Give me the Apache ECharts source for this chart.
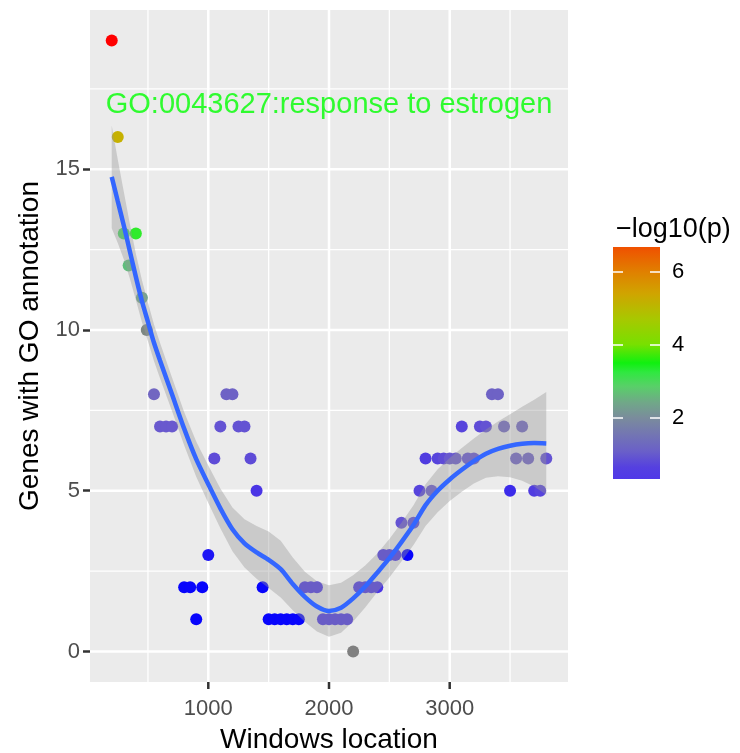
<!DOCTYPE html>
<html><head><meta charset="utf-8">
<script src="https://cdn.jsdelivr.net/npm/echarts@6/dist/echarts.min.js"></script>
<style>html,body{margin:0;padding:0;background:#fff}#c{width:740px;height:753px}</style>
</head><body><div id="c"></div>
<script>
// ---- data ----
const pointX = [200,250,300,340,400,450,490,550,600,650,700,800,850,900,950,1000,1050,1100,1150,1200,1250,1300,1350,1400,1450,
  1500,1550,1600,1650,1700,1750,1800,1850,1900,1950,2000,2050,2100,2150,2200,2250,2300,2350,2400,2450,2500,2550,2600,2650,2700,
  2750,2800,2850,2900,2950,3000,3050,3100,3150,3200,3250,3300,3350,3400,3450,3500,3550,3600,3650,3700,3750,3800];
const pointY = [19,16,13,12,13,11,10,8,7,7,7,2,2,1,2,3,6,7,8,8,7,7,6,5,2,
  1,1,1,1,1,1,2,2,2,1,1,1,1,1,0,2,2,2,2,3,3,3,4,3,4,
  5,6,5,6,6,6,6,7,6,6,7,7,8,8,7,5,6,7,6,5,5,6];
const pointP = [6.68,5.0,3.0,2.7,3.4,2.4,2.0,1.3,1.0,1.0,1.0,0.05,0.05,0.05,0.05,0.2,0.8,0.9,1.2,1.2,0.9,0.9,0.8,0.5,0.05,
  0.05,0.05,0.05,0.05,0.05,0.05,0.5,0.5,0.5,0.5,0.5,0.5,0.5,0.5,1.91,0.5,0.5,0.5,0.5,0.5,0.5,0.5,0.9,0.05,0.8,
  0.7,0.6,1.0,0.7,0.8,1.0,1.0,0.7,0.9,0.9,0.8,0.9,1.2,1.2,1.3,0.4,1.2,1.3,1.2,0.6,0.7,0.9];
const smoothX = [200,250,300,350,400,450,500,550,600,700,800,900,1000,1100,1200,1300,1400,1500,1600,1700,1800,1900,2000,
  2100,2200,2300,2400,2500,2600,2700,2800,2900,3000,3100,3200,3300,3400,3500,3600,3700,3800];
const smoothFit = [14.76,14.0,13.25,12.45,11.65,10.9,10.25,9.6,9.05,7.99,6.93,5.98,5.2,4.45,3.8,3.36,3.08,2.85,2.56,2.1,1.7,1.4,1.26,
  1.36,1.65,2.02,2.45,2.9,3.4,3.93,4.55,5.0,5.35,5.65,5.92,6.15,6.3,6.4,6.46,6.48,6.47];
const smoothLower = [13.16,12.7,12.2,11.6,10.93,10.25,9.65,9.03,8.5,7.47,6.41,5.43,4.62,3.83,3.12,2.61,2.26,1.97,1.68,1.28,0.92,0.62,0.46,
  0.58,0.93,1.37,1.85,2.3,2.8,3.31,3.9,4.33,4.68,4.97,5.22,5.4,5.45,5.42,5.31,5.13,4.87];
const smoothUpper = [16.36,15.3,14.3,13.3,12.37,11.55,10.85,10.17,9.6,8.51,7.45,6.53,5.78,5.07,4.48,4.11,3.9,3.73,3.44,2.92,2.48,2.18,2.06,
  2.14,2.37,2.67,3.05,3.5,4.0,4.55,5.2,5.67,6.02,6.33,6.62,6.9,7.15,7.38,7.61,7.83,8.07];
const xTicks = [1000,2000,3000];
const xMinorTicks = [500,1500,2500,3500];
const yTicks = [0,5,10,15];
const yMinorTicks = [2.5,7.5,12.5,17.5];
const xRange = [20,3980];
const yRange = [-0.95,19.95];
const legendTicks = [2,4,6];
const pRange = [0.32,6.68];
const annotationPos = [2000,17];
const annotationText = 'GO:0043627:response to estrogen';
const xTitle = 'Windows location';
const yTitle = 'Genes with GO annotation';
const legendTitle = '\u2212log10(p)';

// ---- style ----
const FONT = '"Liberation Sans", Arial, sans-serif';
const pointColors = ['#0000FF','#4833e6','#6857d0','#746cbb','#808080','#6ea48c','#56cc72','#28ec30','#5ce808','#98d000','#bcbc00','#d0a600','#dc8800','#e86400','#ff0000'];
const legendStops = [[0,'#5038E8'],[0.05,'#5540e0'],[0.12,'#6a60c8'],[0.2,'#7478b0'],[0.264,'#7a8c9c'],[0.33,'#70a888'],[0.4,'#58d068'],[0.46,'#30e840'],[0.5,'#10f010'],[0.58,'#78e000'],[0.69,'#a8c800'],[0.8,'#d0a400'],[0.893,'#e08000'],[1,'#f05000']];

const chart = echarts.init(document.getElementById('c'), null, {renderer:'canvas'});

function vLines(vals, width){
  return {type:'custom', xAxisIndex:0, yAxisIndex:0, z:1, silent:true,
    data: vals.map(v=>[v, 0]),
    renderItem:(params, api)=>{
      const cs = params.coordSys;
      const x = api.coord([api.value(0), 0])[0];
      return {type:'line', shape:{x1:x,y1:cs.y,x2:x,y2:cs.y+cs.height}, style:{stroke:'#fff', lineWidth:width}};
    }};
}
function hLines(vals, width){
  return {type:'custom', xAxisIndex:0, yAxisIndex:0, z:1, silent:true,
    data: vals.map(v=>[1000, v]),
    renderItem:(params, api)=>{
      const cs = params.coordSys;
      const y = api.coord([1000, api.value(1)])[1];
      return {type:'line', shape:{x1:cs.x,y1:y,x2:cs.x+cs.width,y2:y}, style:{stroke:'#fff', lineWidth:width}};
    }};
}

const option = {
  animation:false,
  backgroundColor:'#ffffff',
  textStyle:{fontFamily:FONT},
  title:{text:legendTitle, left:611, top:211, textStyle:{fontFamily:FONT, fontSize:27, fontWeight:'normal', color:'#000'}},
  grid:[
    {left:90, top:10, width:478, height:672, show:true, backgroundColor:'#EBEBEB', borderWidth:0, outerBoundsMode:'none'},
    {left:613, top:247, width:47, height:232, show:false, outerBoundsMode:'none'}
  ],
  xAxis:[
    {type:'value', gridIndex:0, position:'bottom', min:xRange[0], max:xRange[1], splitLine:{show:false},
      axisLine:{show:false, onZero:false},
      axisTick:{show:false},
      axisLabel:{customValues:xTicks, color:'#4D4D4D', fontSize:22, margin:16, fontFamily:FONT, formatter:v=>String(v)},
      name:xTitle, nameLocation:'middle', nameGap:44, nameTextStyle:{fontSize:28, color:'#000', fontFamily:FONT, verticalAlign:'top'}},
    {type:'value', gridIndex:1, min:0, max:1, show:false}
  ],
  yAxis:[
    {type:'value', gridIndex:0, min:yRange[0], max:yRange[1], splitLine:{show:false}, axisLine:{show:false, onZero:false},
      axisTick:{show:true, length:7, lineStyle:{color:'#333333', width:2.5}, customValues:yTicks},
      axisLabel:{customValues:yTicks, color:'#4D4D4D', fontSize:22, margin:10, fontFamily:FONT, formatter:v=>String(v)},
      name:yTitle, nameLocation:'middle', nameGap:46, nameRotate:90, nameTextStyle:{fontSize:28, color:'#000', fontFamily:FONT, verticalAlign:'bottom'}},
    {type:'value', gridIndex:1, min:pRange[0], max:pRange[1], position:'right', z:10, splitLine:{show:false}, axisLine:{show:false, onZero:false},
      axisTick:{show:true, inside:true, length:10, lineStyle:{color:'#ffffff', width:1.5}, customValues:legendTicks},
      axisLabel:{customValues:legendTicks, color:'#000', fontSize:22, margin:12, fontFamily:FONT, formatter:v=>String(v)}},
    {type:'value', gridIndex:1, min:pRange[0], max:pRange[1], position:'left', z:10, splitLine:{show:false}, axisLine:{show:false, onZero:false},
      axisTick:{show:true, inside:true, length:10, lineStyle:{color:'#ffffff', width:1.5}, customValues:legendTicks},
      axisLabel:{show:false}}
  ],
  visualMap:{type:'continuous', show:false, seriesIndex:4, dimension:2, min:0, max:pRange[1], inRange:{color:pointColors}},
  series:[
    vLines(xMinorTicks, 1.3),
    hLines(yMinorTicks, 1.3),
    vLines(xTicks, 2.5),
    hLines(yTicks, 2.5),
    {type:'scatter', xAxisIndex:0, yAxisIndex:0, z:2, symbolSize:12, silent:true,
      data: pointX.map((x,i)=>[x, pointY[i], pointP[i]]), itemStyle:{opacity:1}},
    {type:'custom', xAxisIndex:0, yAxisIndex:0, z:3, silent:true, data:[[smoothX[0], smoothFit[0]]],
      renderItem:(params, api)=>{
        const pts = [];
        for (let i=0;i<smoothX.length;i++) pts.push(api.coord([smoothX[i], smoothUpper[i]]));
        for (let i=smoothX.length-1;i>=0;i--) pts.push(api.coord([smoothX[i], smoothLower[i]]));
        return {type:'polygon', shape:{points:pts}, style:{fill:'rgba(153,153,153,0.4)', stroke:null}};
      }},
    {type:'line', xAxisIndex:0, yAxisIndex:0, z:4, silent:true, showSymbol:false, smooth:0.25,
      data: smoothX.map((x,i)=>[x, smoothFit[i]]), lineStyle:{color:'#3366FF', width:4.5}},
    {type:'scatter', xAxisIndex:0, yAxisIndex:0, z:5, silent:true, symbolSize:1, itemStyle:{color:'rgba(0,0,0,0)'},
      data:[annotationPos],
      label:{show:true, position:'inside', formatter:annotationText, color:'#00FF00', fontSize:29, fontFamily:FONT}},
    {type:'custom', xAxisIndex:1, yAxisIndex:1, z:2, silent:true, data:[[0, pRange[0]]],
      renderItem:(params, api)=>{
        const a = api.coord([0, pRange[0]]);
        const b = api.coord([1, pRange[1]]);
        return {type:'rect', shape:{x:a[0], y:b[1], width:b[0]-a[0], height:a[1]-b[1]},
          style:{fill:new echarts.graphic.LinearGradient(0,1,0,0, legendStops.map(s=>({offset:s[0], color:s[1]})))}};
      }}
  ]
};
chart.setOption(option);

// x-axis tick marks below the panel, positioned through the chart's own x scale
const tickGraphics = xTicks.map(v => {
  const p = chart.convertToPixel({xAxisIndex:0, yAxisIndex:0}, [v, yRange[0]]);
  return {type:'line', z:100, silent:true, shape:{x1:p[0], y1:p[1], x2:p[0], y2:p[1]+7}, style:{stroke:'#333333', lineWidth:2.5}};
});
chart.setOption({graphic: tickGraphics});
</script></body></html>
